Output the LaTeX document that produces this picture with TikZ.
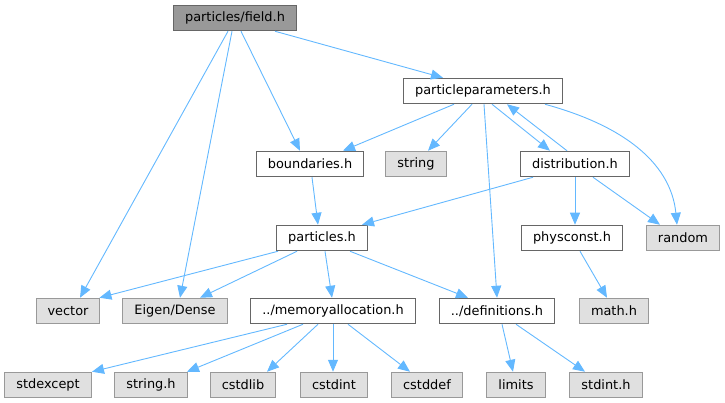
\documentclass[tikz,border=0pt]{standalone}
\usepackage{fontspec}
\setmainfont{DejaVu Sans}
\usetikzlibrary{arrows.meta}

\definecolor{edgeblue}{HTML}{63B8FF}
\definecolor{boxgray}{HTML}{E0E0E0}

\begin{document}
\begin{tikzpicture}[
    x=1pt, y=-1pt,
    Hdr/.style={rectangle, draw=black!60, fill=white, line width=1pt, minimum height=25.5pt, inner xsep=11.5pt, inner ysep=0pt, font=\fontsize{12.9}{15}\selectfont},
    Sys/.style={Hdr, draw=black!40, fill=boxgray},
    Root/.style={Hdr, fill=black!40},
    Dep/.style={draw=edgeblue, line width=0.9pt, -{Triangle[length=12pt, width=10pt]}},
]
    \useasboundingbox (0,0) rectangle (725,403);

    % Nodes
    \node[Root] (Fld) at (235,18)  {particles/field.h};
    \node[Hdr]  (Par) at (483,91)  {particleparameters.h};
    \node[Hdr]  (Bnd) at (310,164) {boundaries.h};
    \node[Sys]  (Str) at (416,164) {string};
    \node[Hdr]  (Dis) at (575,164) {distribution.h};
    \node[Hdr]  (Prt) at (322,238) {particles.h};
    \node[Hdr]  (Phy) at (572,238) {physconst.h};
    \node[Sys]  (Rnd) at (683,238) {random};
    \node[Sys]  (Vec) at (68,311)  {vector};
    \node[Sys]  (Eig) at (175,311) {Eigen/Dense};
    \node[Hdr]  (Mem) at (333,311) {../memoryallocation.h};
    \node[Hdr]  (Def) at (497,311) {../definitions.h};
    \node[Sys]  (Mth) at (614,311) {math.h};
    \node[Sys]  (Exc) at (48,385)  {stdexcept};
    \node[Sys]  (Sth) at (151,385) {string.h};
    \node[Sys]  (Lib) at (243,385) {cstdlib};
    \node[Sys]  (Int) at (334,385) {cstdint};
    \node[Sys]  (Ddf) at (427,385) {cstddef};
    \node[Sys]  (Lim) at (516,385) {limits};
    \node[Sys]  (Sdi) at (606,385) {stdint.h};

    % Lines
    \draw[Dep] ([xshift=40pt]Fld.south) -- ([xshift=-40pt]Par.north);
    \draw[Dep] ([xshift=-7pt]Fld.south) -- ([xshift=12pt]Vec.north);
    \draw[Dep] ([xshift=-3pt]Fld.south) -- ([xshift=5pt]Eig.north);
    \draw[Dep] ([xshift=6pt]Fld.south) -- ([xshift=-10pt]Bnd.north);
    \draw[Dep] ([xshift=-29pt]Par.south) -- ([xshift=33pt]Bnd.north);
    \draw[Dep] ([xshift=-11pt]Par.south) -- ([xshift=12pt]Str.north);
    \draw[Dep] ([xshift=9pt]Par.south) -- ([xshift=-25pt]Dis.north);
    \draw[Dep] ([xshift=-8pt]Dis.north) -- ([xshift=24pt]Par.south);
    \draw[Dep] ([xshift=62pt]Par.south) .. controls +(95,26) and +(-5,-51) .. ([xshift=-6pt]Rnd.north);
    \draw[Dep] ([xshift=1pt]Par.south) -- (Def.north);
    \draw[Dep] ([xshift=2pt]Bnd.south) -- ([xshift=-4pt]Prt.north);
    \draw[Dep] ([xshift=-42pt]Dis.south) -- ([xshift=40pt]Prt.north);
    \draw[Dep] (Dis.south) -- ([xshift=3pt]Phy.north);
    \draw[Dep] ([xshift=18pt]Dis.south) -- ([xshift=-23pt]Rnd.north);
    \draw[Dep] ([xshift=8pt]Phy.south) -- ([xshift=-7pt]Mth.north);
    \draw[Dep] ([xshift=-44pt]Prt.south) -- ([xshift=-1pt]Vec.north east);
    \draw[Dep] ([xshift=-25pt]Prt.south) -- ([xshift=25pt]Eig.north);
    \draw[Dep] ([xshift=3pt]Prt.south) -- ([xshift=-1pt]Mem.north);
    \draw[Dep] ([xshift=28pt]Prt.south) -- ([xshift=-29pt]Def.north);
    \draw[Dep] ([xshift=-46pt]Mem.south) -- ([xshift=44pt]Exc.north);
    \draw[Dep] ([xshift=-30pt]Mem.south) -- ([xshift=36pt]Sth.north);
    \draw[Dep] ([xshift=-15pt]Mem.south) -- ([xshift=24pt]Lib.north);
    \draw[Dep] (Mem.south) -- ([xshift=-1pt]Int.north);
    \draw[Dep] ([xshift=15pt]Mem.south) -- ([xshift=-17pt]Ddf.north);
    \draw[Dep] ([xshift=5pt]Def.south) -- ([xshift=-3pt]Lim.north);
    \draw[Dep] ([xshift=19pt]Def.south) -- ([xshift=-21pt]Sdi.north);
\end{tikzpicture}
\end{document}
